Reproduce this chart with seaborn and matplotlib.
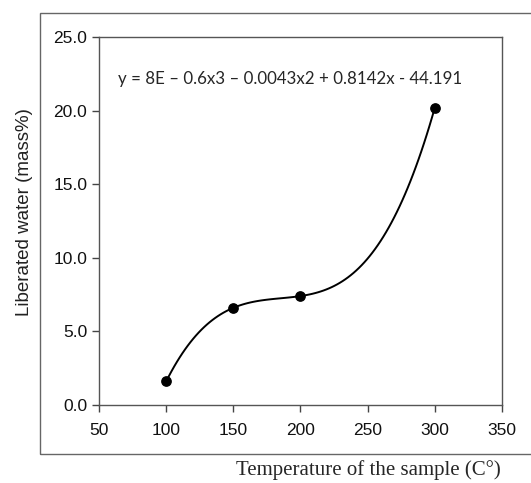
import matplotlib
matplotlib.use("Agg")
import matplotlib.pyplot as plt
import matplotlib.patches as patches
import seaborn as sns
import pandas as pd

# dati
temperature = [100, 150, 200, 300]
water = [1.6, 6.6, 7.4, 20.2]
x_ticks = [50, 100, 150, 200, 250, 300, 350]
y_ticks = [0, 5, 10, 15, 20, 25]
equation = "y = 8E \u2013 0.6x3 \u2013 0.0043x2 + 0.8142x - 44.191"

df = pd.DataFrame({"T": temperature, "W": water})

sns.set_style("ticks")
plt.rcParams['font.family'] = ['Liberation Sans', 'DejaVu Sans']

fig = plt.figure(figsize=(5.31, 4.83), dpi=100)
ax = fig.add_axes([0.1864, 0.1615, 0.759, 0.762])

# fit cubico attraverso i punti
sns.regplot(data=df, x="T", y="W", order=3, ci=None, ax=ax,
            scatter_kws={"color": "black", "s": 45, "zorder": 3, "alpha": 1},
            line_kws={"color": "black", "lw": 1.4})

ax.set_xlim(50, 350)
ax.set_ylim(0, 25)
ax.set_xticks(x_ticks)
ax.set_yticks(y_ticks)
ax.set_yticklabels([f"{v:.1f}" for v in y_ticks])
ax.tick_params(axis='both', direction='out', length=5, width=1, colors='#444444',
               labelcolor='#111111', labelsize=12.5, top=False, right=False)
ax.tick_params(axis='x', pad=8)
for s in ax.spines.values():
    s.set_visible(True)
    s.set_color('#555555')
    s.set_linewidth(1)

ax.set_xlabel("")
ax.set_ylabel("Liberated water (mass%)", fontsize=13.5, color='#222222')
ax.yaxis.set_label_coords(-0.164, 0.524)

ax.text(0.047, 0.887, equation, transform=ax.transAxes, fontsize=12.2,
        family=['Lato', 'DejaVu Sans'], va='center', ha='left')

fig.text(0.943, 0.027, "Temperature of the sample (C\u00b0)", fontsize=15,
         family=['Liberation Serif', 'DejaVu Serif'], ha='right', va='center')

# riquadro esterno
box = patches.Rectangle((40 / 531, 1 - 454 / 483), 1.0, (454 - 13) / 483,
                        transform=fig.transFigure, fill=False,
                        edgecolor='#666666', lw=1, clip_on=False)
fig.patches.append(box)

fig.savefig("out.png", dpi=100)
